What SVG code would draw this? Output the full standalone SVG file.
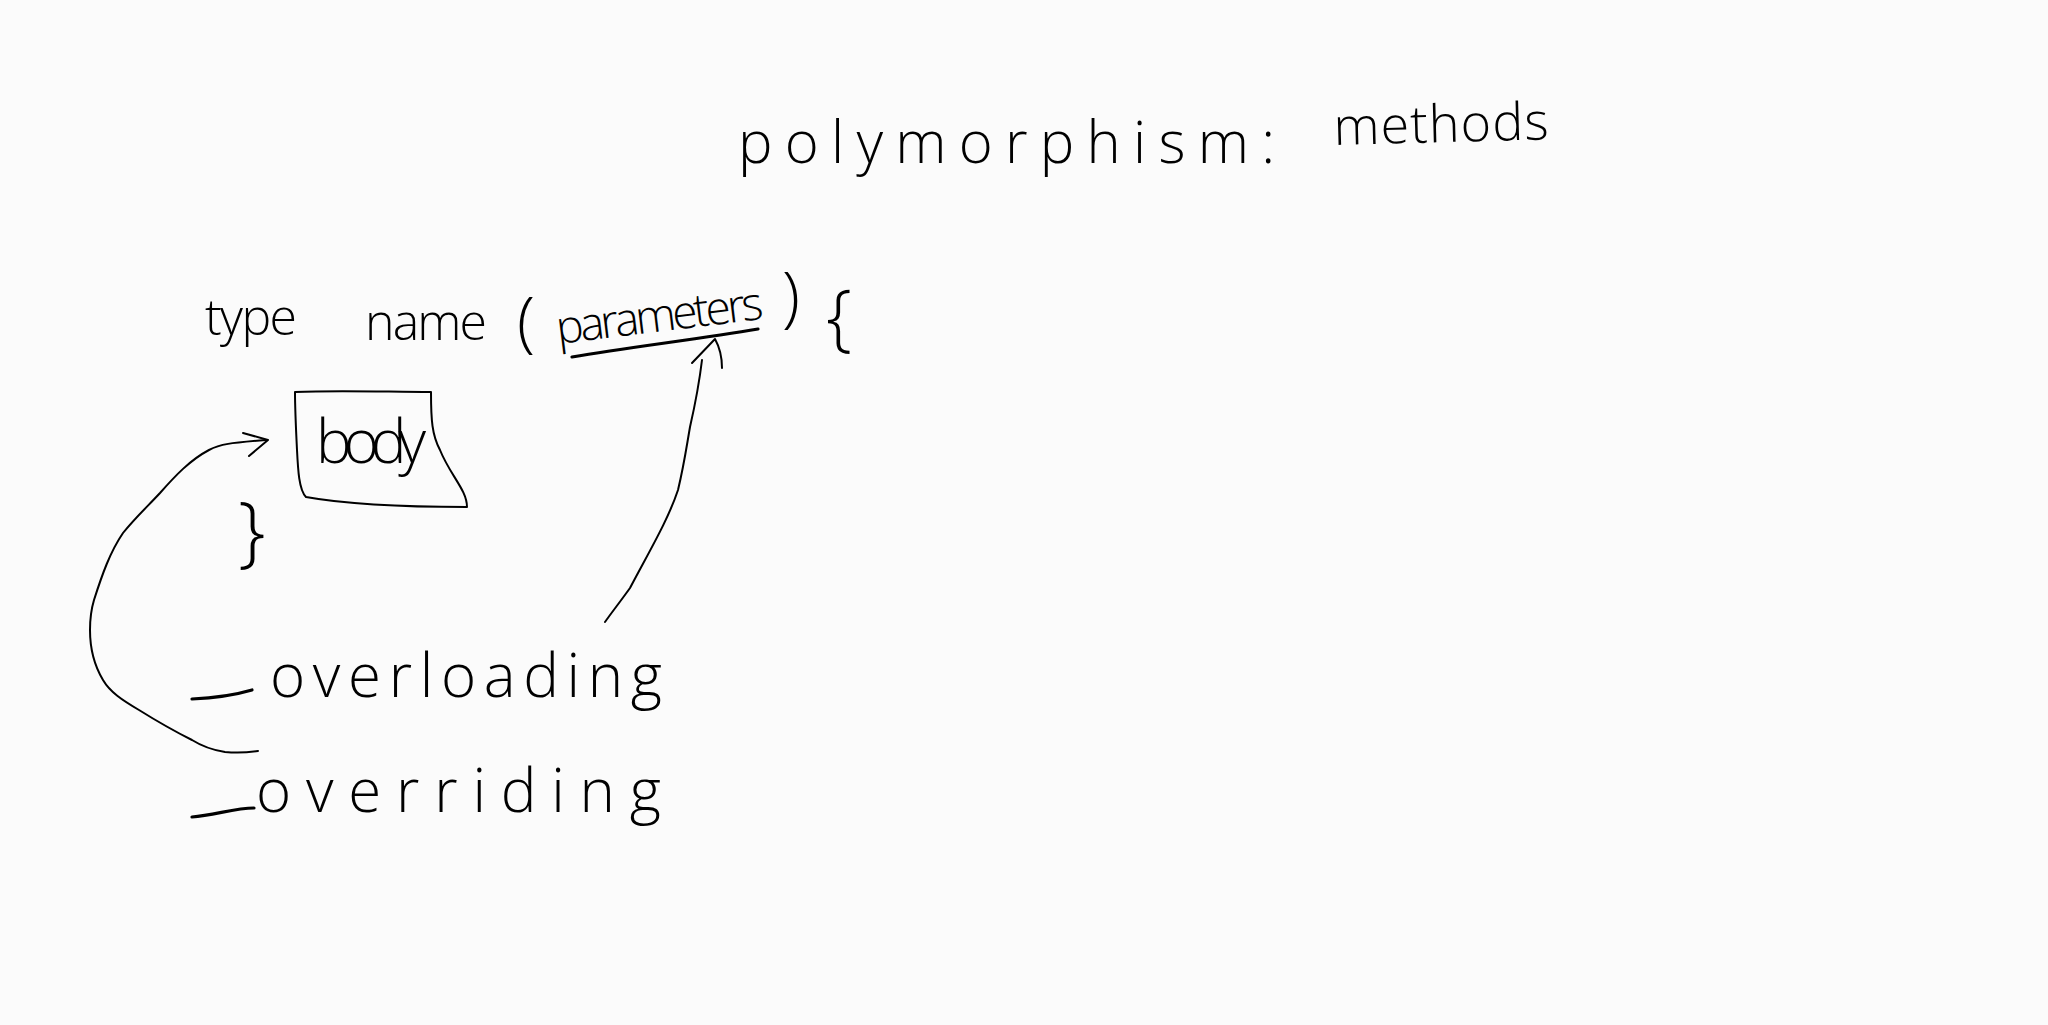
<svg xmlns="http://www.w3.org/2000/svg" width="2048" height="1025" viewBox="0 0 2048 1025">
  <style>
    text { font-family: "Open Sans", "Liberation Sans", sans-serif; font-weight: 300; fill: #000; }
    .ink { fill: none; stroke: #000; stroke-width: 2; stroke-linecap: round; stroke-linejoin: round; }
    .heavy { stroke-width: 3.2; }
  </style>
  <rect width="2048" height="1025" fill="#fbfbfb"/>
  <g id="title">
    <text x="738" y="163" font-size="58" textLength="537" lengthAdjust="spacing">polymorphism:</text>
    <text x="1334" y="145" font-size="52" textLength="215" lengthAdjust="spacing" transform="rotate(-1.5 1334 145)">methods</text>
  </g>
  <g id="signature">
    <text x="205" y="335" font-size="50" textLength="92" lengthAdjust="spacing">type</text>
    <text x="365" y="340" font-size="50" textLength="122" lengthAdjust="spacing">name</text>
    <text x="517" y="345" font-size="66">(</text>
    <text x="558" y="344" font-size="46" textLength="208" lengthAdjust="spacing" transform="rotate(-7 558 344)">parameters</text>
    <text x="782" y="320" font-size="66">)</text>
    <text x="826" y="342" font-size="74">{</text>
  </g>
  <g id="parameters-underline">
    <path class="ink heavy" d="M572 357 C630 347 700 339 758 329"/>
  </g>
  <g id="body">
    <path class="ink" d="M295 392 C340 390 390 392 431 392 C431 420 432 435 440 450 C450 475 467 490 467 507 C420 507 350 505 306 497 C299 490 298 470 297 450 C296 430 295 410 295 392 Z"/>
    <text x="316" y="463" font-size="60" textLength="110" lengthAdjust="spacing">body</text>
  </g>
  <g id="closing-brace">
    <text x="238" y="558" font-size="78">}</text>
  </g>
  <g id="overloading">
    <path class="ink heavy" d="M192 699 C215 698 235 695 252 690"/>
    <text x="270" y="697" font-size="60" textLength="392" lengthAdjust="spacing">overloading</text>
  </g>
  <g id="overriding">
    <path class="ink heavy" d="M192 817 C215 815 235 808 254 808"/>
    <text x="256" y="812" font-size="60" textLength="405" lengthAdjust="spacing">overriding</text>
  </g>
  <g id="connectors">
    <path class="ink" d="M258 751 C245 753 235 753 225 752 C212 750 200 745 192 740 C172 730 155 720 139 710 C122 700 110 692 103 680 C94 665 90 648 90 630 C90 618 91 610 94 600 C102 575 110 552 123 533 C135 518 148 506 160 493 C175 476 190 460 209 450 C220 444 230 443 266 440"/>
    <path class="ink" d="M243 433 L268 440 L249 456"/>
    <path class="ink" d="M605 622 C612 612 620 602 630 588 C650 550 668 520 678 490 C684 465 686 450 690 427 C695 405 699 385 702 360"/>
    <path class="ink" d="M692 363 L715 339 C720 348 722 358 722 368"/>
  </g>
</svg>
